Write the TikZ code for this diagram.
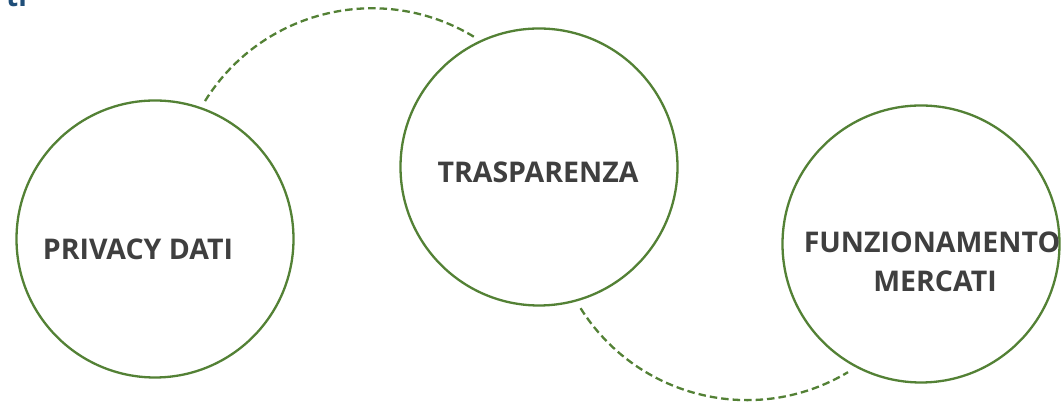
\documentclass[tikz,border=0pt]{standalone}
\usepackage{fontspec}
\usetikzlibrary{calc}
\setmainfont{Open Sans}
\definecolor{cgreen}{HTML}{538135}
\definecolor{ctext}{HTML}{3F3F3F}
\definecolor{cblue}{HTML}{1F4E79}
\begin{document}
\begin{tikzpicture}[x=1pt,y=1pt,
  ring/.style={circle,draw=cgreen,line width=2.3pt,minimum size=277pt,inner sep=0pt},
  lbl/.style={font=\fontsize{28.5}{34}\selectfont\bfseries,text=ctext,anchor=base,inner sep=0pt},
  link/.style={draw=cgreen,line width=2.3pt,dash pattern=on 7.5pt off 4pt}]
\useasboundingbox (0,0) rectangle (1061,403);
\fill[white] (0,0) rectangle (1061,403);
% partial title
\node[font=\fontsize{28}{34}\selectfont\bfseries,text=cblue,anchor=base west,inner sep=0pt] (title) at (6,396) {ti};
% circles
\node[ring] (c1) at (155,164) {};
\node[ring] (c2) at (539,236) {};
\node[ring] (c3) at (921,159) {};
% labels
\node[lbl] (t1) at (138,143) {PRIVACY DATI};
\node[lbl] (t2) at (538,220) {TRASPARENZA};
\node[lbl] (t3a) at (932,150) {FUNZIONAMENTO};
\node[lbl] (t3b) at (935,111) {MERCATI};
% dashed arcs
\coordinate (a1) at ($(372,198)+(148.1:196.7)$);
\coordinate (a2) at ($(747,199.6)+(212.2:196.7)$);
\draw[link] (a1) arc[start angle=148.1,end angle=58.5,radius=196.7];
\draw[link] (a2) arc[start angle=212.2,end angle=300.9,radius=196.7];
\end{tikzpicture}
\end{document}
